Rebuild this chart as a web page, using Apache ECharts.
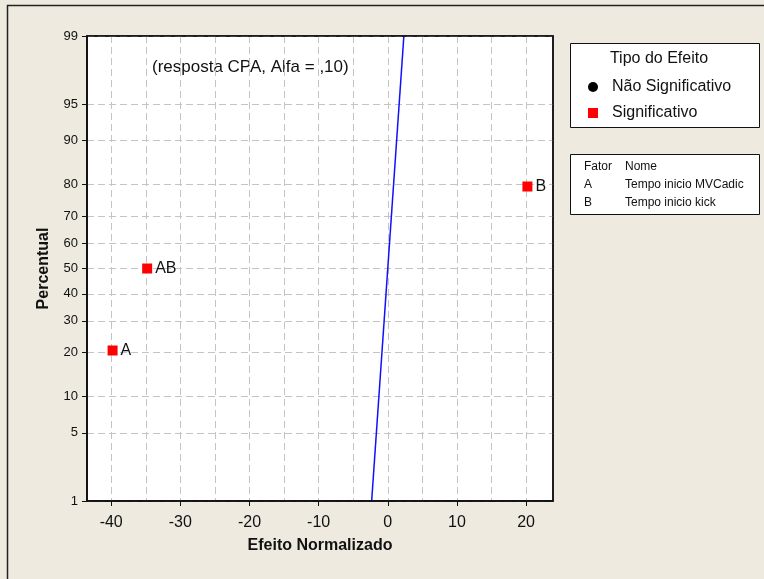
<!DOCTYPE html>
<html>
<head>
<meta charset="utf-8">
<script src="https://cdn.jsdelivr.net/npm/echarts@6/dist/echarts.min.js"></script>
<style>
html, body { margin: 0; padding: 0; background: #eeeae0; }
#chart { width: 764px; height: 579px; }
</style>
</head>
<body>
<div id="chart"></div>
<script>
// efeitos normalizados e percentuais
const fatores = ['A', 'AB', 'B']
const efeitos = [-39.8, -34.8, 20.2]
const percentuais = [20.6, 50, 79.4]

// linha de referência normal
const linhaEfeito = [-2.33, 2.33]
const linhaPercentual = [1, 99]

// marcas dos eixos
const percentTicks = [1, 5, 10, 20, 30, 40, 50, 60, 70, 80, 90, 95, 99]
const xTicks = [-40, -30, -20, -10, 0, 10, 20]
const xGrade = [-40, -35, -30, -25, -20, -15, -10, -5, 0, 5, 10, 15, 20]

// tabela de fatores
const fatorCodigos = ['A', 'B']
const fatorNomes = ['Tempo inicio MVCadic', 'Tempo inicio kick']

const FONT = '"Liberation Sans", Arial, sans-serif'

// inversa da normal padrão (Acklam) - escala de probabilidade
const probit = (p) => {
  const a = [-3.969683028665376e+01, 2.209460984245205e+02, -2.759285104469687e+02, 1.383577518672690e+02, -3.066479806614716e+01, 2.506628277459239e+00]
  const b = [-5.447609879822406e+01, 1.615858368580409e+02, -1.556989798598866e+02, 6.680131188771972e+01, -1.328068155288572e+01]
  const c = [-7.784894002430293e-03, -3.223964580411365e-01, -2.400758277161838e+00, -2.549732539343734e+00, 4.374664141464968e+00, 2.938163982698783e+00]
  const d = [7.784695709041462e-03, 3.224671290700398e-01, 2.445134137142996e+00, 3.754408661907416e+00]
  const pl = 0.02425
  let q, r
  if (p < pl) {
    q = Math.sqrt(-2 * Math.log(p))
    return (((((c[0] * q + c[1]) * q + c[2]) * q + c[3]) * q + c[4]) * q + c[5]) / ((((d[0] * q + d[1]) * q + d[2]) * q + d[3]) * q + 1)
  }
  if (p > 1 - pl) {
    q = Math.sqrt(-2 * Math.log(1 - p))
    return -(((((c[0] * q + c[1]) * q + c[2]) * q + c[3]) * q + c[4]) * q + c[5]) / ((((d[0] * q + d[1]) * q + d[2]) * q + d[3]) * q + 1)
  }
  q = p - 0.5
  r = q * q
  return (((((a[0] * r + a[1]) * r + a[2]) * r + a[3]) * r + a[4]) * r + a[5]) * q / (((((b[0] * r + b[1]) * r + b[2]) * r + b[3]) * r + b[4]) * r + 1)
}

const zTicks = percentTicks.map(p => probit(p / 100))
const zMin = zTicks[0]
const zMax = zTicks[zTicks.length - 1]

const chart = echarts.init(document.getElementById('chart'))

const gridLine = { show: true, lineStyle: { color: '#c4c4c4', type: [7, 4], width: 1 } }

const option = {
  backgroundColor: '#eeeae0',
  animation: false,
  grid: {
    left: 87, top: 36, right: 211, bottom: 78,
    show: true, backgroundColor: '#fff', borderColor: '#111', borderWidth: 1.5
  },
  xAxis: [
    {
      type: 'value', min: -43.5, max: 23.9,
      name: 'Efeito Normalizado', nameLocation: 'middle', nameGap: 37,
      nameTextStyle: { fontFamily: FONT, fontSize: 16, fontWeight: 'bold', color: '#111' },
      axisLine: { onZero: false, lineStyle: { color: '#111', width: 1.5 } },
      axisTick: { show: true, length: 5, lineStyle: { color: '#111' }, customValues: xTicks },
      axisLabel: { customValues: xTicks, margin: 14, fontFamily: FONT, fontSize: 16, color: '#111' },
      splitLine: { show: false }
    },
    {
      type: 'value', min: -43.5, max: 23.9, position: 'bottom',
      axisLine: { show: false, onZero: false },
      axisTick: { show: false, customValues: xGrade },
      axisLabel: { show: false },
      splitLine: gridLine
    }
  ],
  yAxis: {
    type: 'value', min: zMin, max: zMax,
    name: 'Percentual', nameLocation: 'middle', nameGap: 35, nameRotate: 90,
    nameTextStyle: { fontFamily: FONT, fontSize: 16, fontWeight: 'bold', color: '#111' },
    axisLine: { onZero: false, lineStyle: { color: '#111', width: 1.5 } },
    axisTick: { show: true, length: 5, lineStyle: { color: '#111' }, customValues: zTicks },
    axisLabel: {
      customValues: zTicks, margin: 9, fontFamily: FONT, fontSize: 13, color: '#111',
      formatter: (v) => {
        const i = zTicks.findIndex(z => Math.abs(z - v) < 1e-6)
        return i >= 0 ? String(percentTicks[i]) : ''
      }
    },
    splitLine: gridLine
  },
  legend: {
    orient: 'vertical', left: 583, top: 74,
    itemWidth: 10, itemHeight: 10, itemGap: 10,
    textStyle: { fontFamily: FONT, fontSize: 16, color: '#111', lineHeight: 16, padding: [0, 0, 0, 9] },
    data: [
      { name: 'Não Significativo', icon: 'circle' },
      { name: 'Significativo', icon: 'rect' }
    ]
  },
  series: [
    {
      name: 'Linha', type: 'line', xAxisIndex: 0, symbol: 'none', silent: true,
      lineStyle: { color: '#1010ff', width: 1.5 },
      data: linhaEfeito.map((x, i) => [x, probit(linhaPercentual[i] / 100)])
    },
    {
      name: 'Não Significativo', type: 'scatter', xAxisIndex: 0, symbol: 'circle',
      itemStyle: { color: '#000', opacity: 1 }, data: []
    },
    {
      name: 'Significativo', type: 'scatter', xAxisIndex: 0, symbol: 'rect', symbolSize: 10,
      itemStyle: { color: '#ff0000', opacity: 1 },
      label: {
        show: true, position: 'right', distance: 3,
        fontFamily: FONT, fontSize: 16, color: '#111',
        formatter: (p) => p.name
      },
      data: efeitos.map((x, i) => ({ name: fatores[i], value: [x, probit(percentuais[i] / 100)] }))
    }
  ],
  graphic: [
    // moldura externa
    { type: 'rect', shape: { x: 7.5, y: 5.5, width: 800, height: 600 }, style: { fill: null, stroke: '#222', lineWidth: 1.5 }, silent: true },
    // borda da área do gráfico por cima das linhas de grade
    { type: 'rect', shape: { x: 87, y: 36, width: 466, height: 465 }, style: { fill: null, stroke: '#111', lineWidth: 1.5 }, silent: true, z: 100 },
    // anotação
    { type: 'text', left: 152, top: 59, style: { text: '(resposta CPA, Alfa = ,10)', fontFamily: FONT, fontSize: 17, fill: '#111' } },
    // caixa da legenda
    { type: 'rect', shape: { x: 570.5, y: 43.5, width: 189, height: 84 }, style: { fill: '#fff', stroke: '#111', lineWidth: 1 }, z: -1 },
    { type: 'text', x: 659, y: 59, style: { text: 'Tipo do Efeito', fontFamily: FONT, fontSize: 16, fill: '#111', align: 'center', verticalAlign: 'middle' } },
    // tabela de fatores
    { type: 'rect', shape: { x: 570.5, y: 154.5, width: 189, height: 60 }, style: { fill: '#fff', stroke: '#111', lineWidth: 1 } },
    { type: 'text', x: 584, y: 167, style: { text: 'Fator', fontFamily: FONT, fontSize: 12, fill: '#111', verticalAlign: 'middle' } },
    { type: 'text', x: 625, y: 167, style: { text: 'Nome', fontFamily: FONT, fontSize: 12, fill: '#111', verticalAlign: 'middle' } },
    ...fatorCodigos.flatMap((cod, i) => [
      { type: 'text', x: 584, y: 185 + i * 18, style: { text: cod, fontFamily: FONT, fontSize: 12, fill: '#111', verticalAlign: 'middle' } },
      { type: 'text', x: 625, y: 185 + i * 18, style: { text: fatorNomes[i], fontFamily: FONT, fontSize: 12, fill: '#111', verticalAlign: 'middle' } }
    ])
  ]
}

chart.setOption(option)
</script>
</body>
</html>
